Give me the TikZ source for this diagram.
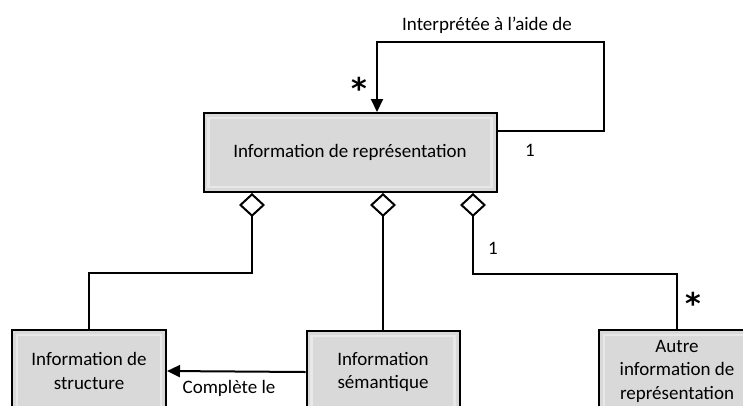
\documentclass[tikz,border=0pt]{standalone}
\usepackage{fontspec}
\setmainfont{Carlito}
\newfontfamily\symfont{DejaVu Sans}
\usetikzlibrary{arrows.meta, positioning, calc}

\definecolor{boxgray}{RGB}{217,217,217}
\definecolor{bevel}{RGB}{232,232,232}

\tikzset{
  classe/.style={draw, line width=2pt, fill=boxgray, align=center,
    font=\fontsize{19}{23.5}\selectfont,
    path picture={\draw[bevel, line width=2.5pt]
      ($(path picture bounding box.south west)+(5pt,5pt)$) rectangle
      ($(path picture bounding box.north east)+(-5pt,-5pt)$);}},
  lien/.style={line width=2pt},
  aggr/.style={lien, {Diamond[open, length=24pt, width=26pt]}-},
  asso/.style={lien, -{Triangle[length=13pt, width=12pt]}},
  mult/.style={font=\fontsize{19}{19}\selectfont},
  etoile/.style={font=\symfont\bfseries\fontsize{30}{30}\selectfont},
  lbl/.style={font=\fontsize{19}{22}\selectfont, align=center}
}

\begin{document}
\begin{tikzpicture}[x=1pt, y=-1pt]
\useasboundingbox (0,0) rectangle (743,405);
\clip (0,0) rectangle (743,405);

% classes
\node[classe, minimum width=293pt, minimum height=79pt] (rep) at (350,152.5) {Information de représentation};
\node[classe, minimum width=154pt, minimum height=82pt] (str) at (89,371) {Information de\\structure};
\node[classe, minimum width=153pt, minimum height=82pt] (sem) at (383,372) {Information\\sémantique};
\node[classe, minimum width=156pt, minimum height=82pt] (autre) at (677,371) {Autre\\information de\\représentation};

% aggregations
\coordinate (d1) at (rep.south -| 252,0);
\coordinate (d2) at (rep.south -| sem.north);
\coordinate (d3) at (rep.south -| 473,0);
\draw[aggr] (d1) -- ++(0,80) -| (str.north);
\draw[aggr] (d2) -- (sem.north);
\draw[aggr] (d3) -- ++(0,81) -| (autre.north);

% associations
\draw[asso] (rep.north east |- 0,131) -- ++(106,0) |- (377,42) -- (rep.north -| 377,0);
\draw[asso] (sem.west) -- (str.east);

% labels
\node[lbl] (interp) at (487,25) {Interprétée à l’aide de};
\node[lbl] (compl) at (229,388) {Complète le};
\node[mult] (m1) at (530,150) {1};
\node[mult] (m2) at (493,248) {1};
\node[etoile] (e1) at (359,88) {*};
\node[etoile] (e2) at (693,303) {*};
\end{tikzpicture}
\end{document}
